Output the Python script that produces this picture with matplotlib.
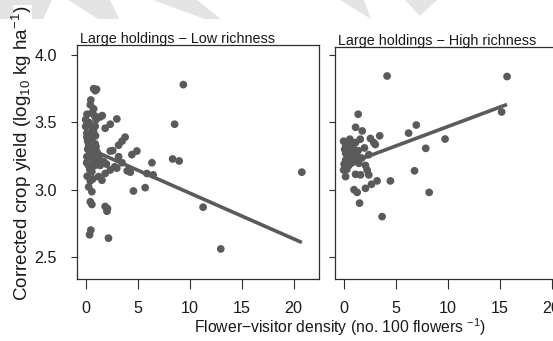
import matplotlib
matplotlib.use("Agg")
import matplotlib.pyplot as plt
from matplotlib.patches import Polygon, Rectangle
import numpy as np

plt.rcParams['font.family'] = ['Liberation Sans', 'DejaVu Sans']
plt.rcParams['mathtext.fontset'] = 'custom'
plt.rcParams['mathtext.rm'] = 'Liberation Sans'
plt.rcParams['mathtext.it'] = 'Liberation Sans:italic'

# ---------------- data ----------------
panel_titles = ["Large holdings \u2212 Low richness", "Large holdings \u2212 High richness"]

low_x = [0.77, 0.92, 1.05, 9.4, 0.5, 0.45, 0.77, 0.13, 0.6, 1.4, 3.0, 0.0, 2.37, 1.88, 8.56,
         0.0, 0.45, 0.92, 0.12, 0.77, 0.12, 0.6, 3.8, 3.5, 3.17, 0.29, 0.92, 0.45, 1.09,
         2.37, 4.93, 4.45, 3.17, 0.12, 0.77, 1.73, 3.5, 6.38, 8.37, 9.0, 0.29, 1.4, 3.0,
         2.37, 4.0, 4.3, 0.6, 1.88, 5.9, 6.5, 1.25, 1.57, 0.45, 5.73, 0.29, 4.6, 0.6, 0.45,
         0.6, 1.88, 2.1, 2.05, 0.5, 0.38, 2.2, 11.3, 13.0, 20.8,
         0.2, 0.35, 0.55, 0.85, 1.0, 1.1, 0.9, 0.4, 0.7, 1.2, 0.3, 0.65, 1.0, 0.2, 0.85,
         1.6, 0.1, 0.65, 1.3, 2.0, 2.6, 2.8, 0.15, 0.95]
low_y = [3.75, 3.735, 3.745, 3.78, 3.666, 3.63, 3.60, 3.56, 3.57, 3.54, 3.525, 3.52, 3.486, 3.456, 3.486,
         3.47, 3.48, 3.47, 3.42, 3.43, 3.39, 3.38, 3.39, 3.36, 3.33, 3.33, 3.34, 3.295, 3.28,
         3.287, 3.287, 3.26, 3.245, 3.245, 3.22, 3.21, 3.20, 3.20, 3.228, 3.213, 3.18, 3.18, 3.16,
         3.146, 3.14, 3.13, 3.134, 3.12, 3.12, 3.11, 3.097, 3.07, 3.065, 3.015, 3.02, 2.99, 2.985, 2.91,
         2.89, 2.875, 2.86, 2.84, 2.70, 2.665, 2.64, 2.87, 2.56, 3.13,
         3.30, 3.25, 3.41, 3.28, 3.32, 3.23, 3.18, 3.15, 3.08, 3.20, 3.50, 3.45, 3.52, 3.36, 3.55,
         3.55, 3.20, 3.27, 3.25, 3.19, 3.29, 3.17, 3.10, 3.40]

high_x = [1.4, 1.15, 1.79, 2.58, 3.47, 6.25, 6.99, 7.9, 9.76, 6.82, 8.23, 4.5, 3.7, 1.53, 1.3,
          1.0, 2.1, 2.68, 3.22, 0.19, 1.15, 1.63, 2.42, 2.26, 0.0, 0.5, 1.46, 2.1, 0.2, 0.96,
          2.42, 0.2, 0.8, 1.4, 2.0, 0.2, 1.15, 0.0, 0.6, 1.6, 2.9, 3.05, 0.5, 0.35, 0.8, 1.75,
          1.3, 4.18, 15.72, 15.2, 0.1, 0.4, 0.7, 0.05, 0.3, 0.9]
high_y = [3.56, 3.463, 3.436, 3.38, 3.40, 3.42, 3.48, 3.307, 3.376, 3.14, 2.98, 3.065, 2.80, 2.90, 2.98,
          3.0, 3.01, 3.04, 3.065, 3.097, 3.114, 3.11, 3.11, 3.146, 3.146, 3.18, 3.196, 3.18, 3.22, 3.23,
          3.26, 3.27, 3.28, 3.29, 3.31, 3.33, 3.35, 3.36, 3.375, 3.375, 3.35, 3.335, 3.31, 3.24, 3.2, 3.235,
          3.25, 3.844, 3.84, 3.577, 3.30, 3.26, 3.34, 3.19, 3.15, 3.32]

fit_intercept = [3.315, 3.18]
fit_slope = [-0.034, 0.0288]

x_ticks = [0, 5, 10, 15, 20]
y_ticks = [2.5, 3.0, 3.5, 4.0]

# ---------------- styling ----------------
title_fs, tick_fs, xlab_fs = 10.4, 11.6, 11.3

W, H = 553, 341
fig = plt.figure(figsize=(W / 100, H / 100), dpi=100)

def fx(px):
    return px / W

def fy(py):
    return 1 - py / H

# faint watermark shapes at the top
wm = [
    [(0, 0), (52, 0), (43, 19), (0, 19)],
    [(68, 0), (110, 0), (119, 19), (98, 19)],
    [(153, 0), (197, 0), (221, 19), (205, 19)],
    [(340, 0), (364, 0), (371, 19)],
    [(405, 0), (437, 0), (420, 16)],
]
for poly in wm:
    fig.patches.append(Polygon([(fx(a), fy(b)) for a, b in poly], closed=True,
                               transform=fig.transFigure, facecolor='#e4e4e4',
                               edgecolor='none', zorder=0))
fig.patches.append(Rectangle((fx(13), fy(21)), fx(19), 16 / H, transform=fig.transFigure,
                             facecolor='white', edgecolor='none', zorder=0))

pt_col = '#5a5a5a'
spine_col = '#2e2e2e'
txt_col = '#1a1a1a'

ax_px = [(77, 319, 45, 279), (335, 577, 47, 279)]
datasets = [(low_x, low_y), (high_x, high_y)]
ylims = [(2.5 - 22 / 134.7, 4.0 + 10 / 134.7), (2.5 - 22 / 134.7, 4.0 + 8 / 134.7)]

for i, ((l, r, t, b), (xs, ys)) in enumerate(zip(ax_px, datasets)):
    ax = fig.add_axes([fx(l), fy(b), (r - l) / W, (b - t) / H])
    ax.set_facecolor('none')
    ax.scatter(xs, ys, s=31, color=pt_col, edgecolors='none', zorder=3)
    xl = np.array([min(xs), max(xs)])
    ax.plot(xl, fit_intercept[i] + fit_slope[i] * xl, color=pt_col, lw=2.6,
            solid_capstyle='butt', zorder=4)
    ax.set_xlim(-0.83, 22.45)
    ax.set_ylim(*ylims[i])
    ax.set_xticks(x_ticks)
    ax.set_yticks(y_ticks)
    ax.set_xticklabels([str(v) for v in x_ticks])
    if i == 0:
        ax.set_yticklabels(["%.1f" % v for v in y_ticks])
    else:
        ax.set_yticklabels([])
    ax.tick_params(axis='x', direction='out', length=7, width=0.8, color=spine_col,
                   labelsize=tick_fs, labelcolor=txt_col, pad=9)
    ax.tick_params(axis='y', direction='out', length=4.5, width=0.8, color=spine_col,
                   labelsize=tick_fs, labelcolor=txt_col, pad=10)
    for s in ax.spines.values():
        s.set_color(spine_col)
        s.set_linewidth(0.9)
    ax.text(0.012, 1.008, panel_titles[i], transform=ax.transAxes, ha='left', va='baseline',
            fontsize=title_fs, color=txt_col)

fig.text(fx(340), fy(327), 'Flower\u2212visitor density (no. 100 flowers ${}^{-1}$)',
         ha='center', va='center', fontsize=xlab_fs, color=txt_col)
fig.text(fx(22), fy(153), 'Corrected crop yield (log$_{10}$ kg ha$^{-1}$)',
         ha='center', va='center', rotation=90, fontsize=13.6, color=txt_col, zorder=5)

fig.savefig('out.png', dpi=100)
